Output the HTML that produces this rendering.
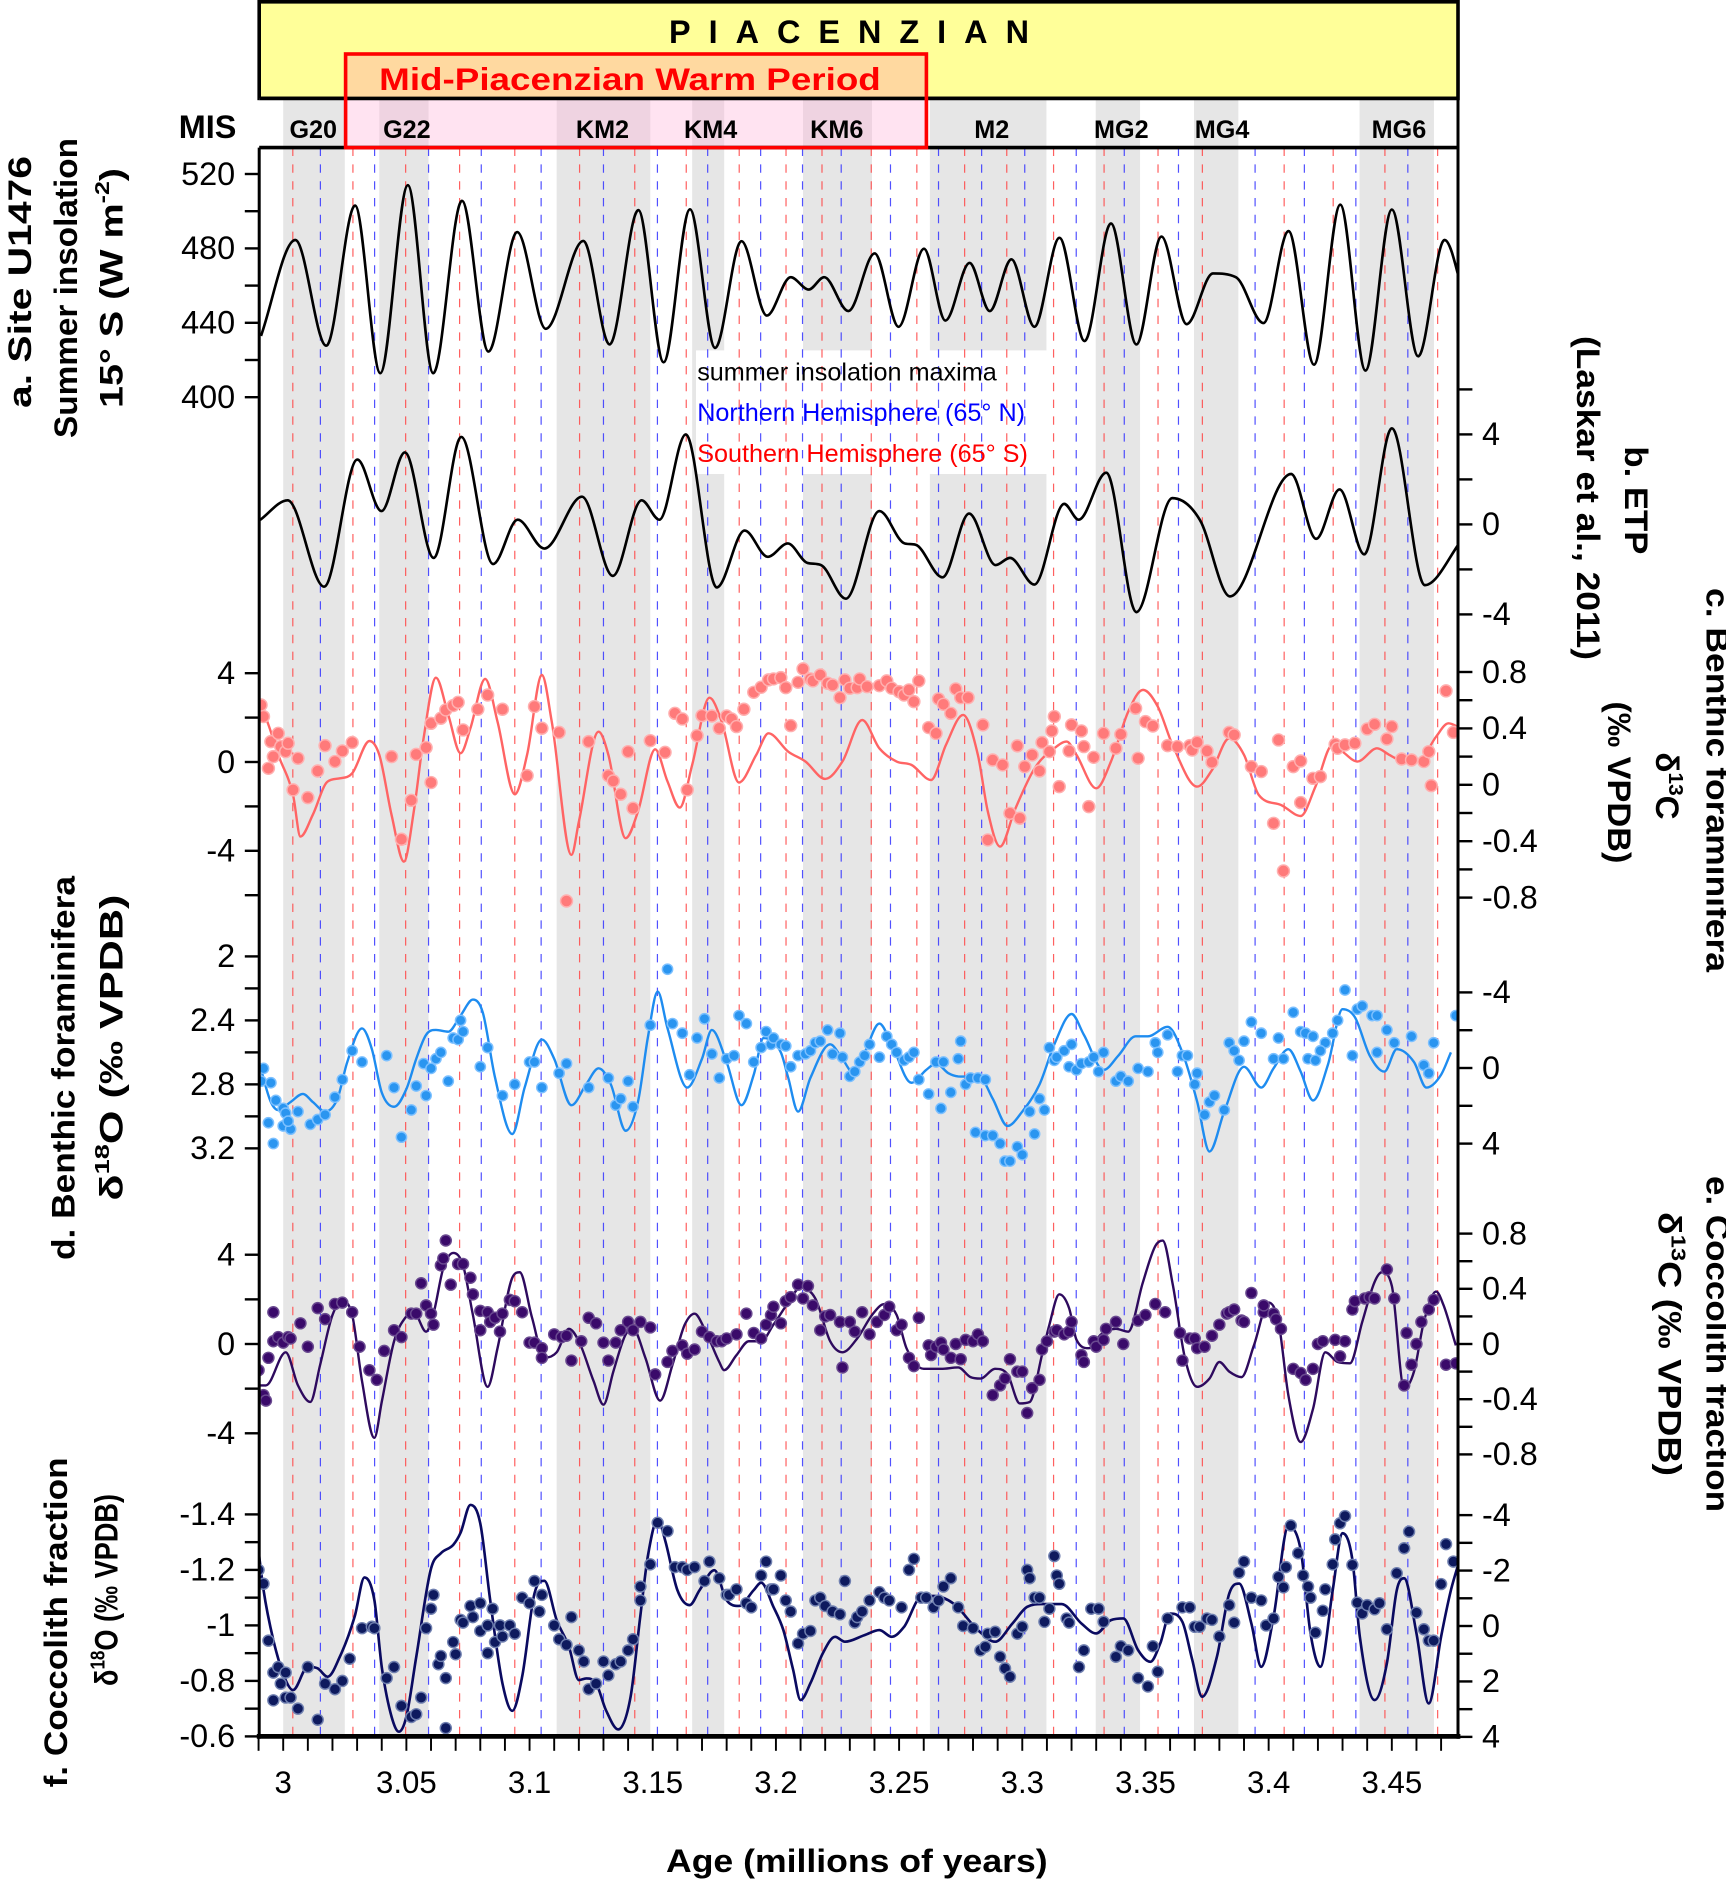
<!DOCTYPE html>
<html><head><meta charset="utf-8"><style>
html,body{margin:0;padding:0;background:#fff}
svg{display:block}
text{font-family:"Liberation Sans",sans-serif}
</style></head><body>
<svg id="chart" width="1726" height="1882" viewBox="0 0 1438.33 1568.33" xmlns="http://www.w3.org/2000/svg">
<defs><clipPath id="plotclip"><rect x="216" y="123" width="999" height="1324"/></clipPath></defs>
<g id="bg"></g>
<g id="marks" clip-path="url(#plotclip)"></g>
<g id="axes"></g>
</svg>
<script>
// ---------- data ----------
const bandStart=[3.0000,3.0390,3.1110,3.1660,3.2110,3.2625,3.3298,3.3697,3.4369];
const bandEnd  =[3.0250,3.0590,3.1490,3.1790,3.2390,3.3098,3.3478,3.3877,3.4671];
const misLabels=["G20","G22","KM2","KM4","KM6","M2","MG2","MG4","MG6"];
const misAges  =[3.0122,3.0502,3.1296,3.1735,3.2247,3.2876,3.3402,3.3811,3.4529];
const redLines =[3.0039,3.0283,3.0497,3.0716,3.0940,3.1203,3.1427,3.1636,3.1851,3.2041,3.2187,3.2387,3.2572,3.2766,3.2937,3.3127,3.3332,3.3551,3.3731,3.4063,3.4262,3.4472,3.4686];
const blueLines=[3.0151,3.0371,3.0590,3.0804,3.1047,3.1300,3.1519,3.1723,3.1938,3.2108,3.2265,3.2465,3.2660,3.2835,3.3010,3.3219,3.3414,3.3634,3.3945,3.4145,3.4354,3.4565];
const ageTicks=[3,3.05,3.1,3.15,3.2,3.25,3.3,3.35,3.4,3.45];
const ageTickLabels=["3","3.05","3.1","3.15","3.2","3.25","3.3","3.35","3.4","3.45"];

const insAge=[2.991,3.0049,3.0175,3.0292,3.0394,3.0506,3.0609,3.0726,3.0833,3.0950,3.1066,3.1218,3.1325,3.1442,3.1544,3.1651,3.1753,3.1860,3.1963,3.2060,3.2133,3.2196,3.2294,3.2401,3.2498,3.2601,3.2688,3.2786,3.2868,3.2956,3.3049,3.3151,3.3253,3.3360,3.3463,3.3565,3.3667,3.3774,3.3867,3.3979,3.4081,3.4184,3.4291,3.4393,3.4500,3.4607,3.4714,3.4802];
const insVal=[433,484.5,427.7,503,412.9,514,412.9,505.6,424.5,488.8,436.8,484,428.4,500.6,418.8,501,426.5,483.9,443.9,464.5,457.9,464.5,446.3,477.3,437.9,479.9,441.2,472.2,446.3,474.1,437.9,485.7,430.2,493.4,428.4,486.4,439.3,466.5,464.5,439.9,489.3,417.5,503.5,414.3,500.9,422,484.5,449.6];

const etpAge=[2.9906,3.0018,3.0166,3.0301,3.0399,3.0494,3.0611,3.0723,3.0852,3.0952,3.1060,3.1213,3.1338,3.1455,3.1527,3.1634,3.1760,3.1873,3.1967,3.2048,3.2128,3.2182,3.2284,3.2420,3.2523,3.2566,3.2676,3.2784,3.2892,3.2950,3.3049,3.3170,3.3229,3.3341,3.3463,3.3609,3.3721,3.3843,3.4091,3.4193,3.4288,3.4388,3.4500,3.4634,3.4787];
const etpVal=[0.2,1.07,-2.77,2.88,0.59,3.2,-1.49,3.89,-1.76,0.21,-1.07,1.23,-2.29,1.07,0.21,4.0,-2.8,-0.27,-1.44,-0.85,-1.71,-1.8,-3.3,0.59,-0.85,-0.9,-2.35,0.48,-1.81,-1.49,-2.67,0.91,0.21,2.3,-3.9,1.17,0.2,-3.2,2.24,-0.64,1.55,-1.33,4.27,-2.7,-0.64];

const bc13PtAge=[2.991,2.992,2.995,2.994,2.996,2.998,2.999,3.001,3.002,3.004,3.006,3.010,3.014,3.017,3.021,3.024,3.028,3.044,3.048,3.052,3.054,3.058,3.060,3.060,3.064,3.066,3.069,3.071,3.073,3.079,3.083,3.089,3.099,3.102,3.105,3.112,3.115,3.124,3.132,3.134,3.137,3.140,3.142,3.149,3.155,3.159,3.162,3.164,3.168,3.170,3.174,3.177,3.180,3.182,3.184,3.187,3.191,3.194,3.197,3.199,3.202,3.204,3.206,3.209,3.211,3.214,3.215,3.218,3.221,3.223,3.226,3.228,3.230,3.233,3.234,3.237,3.242,3.245,3.247,3.250,3.252,3.254,3.256,3.258,3.262,3.265,3.266,3.268,3.271,3.273,3.275,3.278,3.284,3.286,3.288,3.292,3.295,3.298,3.299,3.301,3.304,3.307,3.308,3.311,3.312,3.313,3.315,3.319,3.320,3.324,3.325,3.327,3.329,3.333,3.338,3.340,3.346,3.347,3.350,3.353,3.359,3.363,3.368,3.369,3.371,3.375,3.377,3.384,3.386,3.393,3.397,3.402,3.404,3.406,3.410,3.413,3.413,3.418,3.421,3.427,3.428,3.431,3.435,3.440,3.443,3.448,3.450,3.454,3.458,3.463,3.465,3.466,3.472,3.475];
const bc13PtVal=[0.566,0.484,0.306,0.117,0.20,0.365,0.271,0.235,0.295,-0.036,0.188,-0.091,0.098,0.278,0.165,0.24,0.30,0.20,-0.386,-0.11,0.216,0.264,0.016,0.436,0.472,0.531,0.562,0.585,0.389,0.536,0.637,0.536,0.065,0.555,0.401,0.372,-0.824,0.306,0.065,0.027,-0.067,0.235,-0.166,0.313,0.23,0.507,0.467,-0.036,0.349,0.491,0.488,0.401,0.488,0.467,0.413,0.536,0.656,0.692,0.744,0.751,0.76,0.689,0.42,0.727,0.822,0.751,0.737,0.779,0.72,0.708,0.618,0.744,0.685,0.689,0.751,0.696,0.703,0.737,0.685,0.661,0.637,0.673,0.59,0.737,0.406,0.365,0.609,0.571,0.507,0.68,0.618,0.618,0.425,-0.391,0.176,0.141,-0.202,0.276,-0.237,0.129,0.212,0.098,0.30,0.235,0.382,0.484,-0.013,0.24,0.425,0.382,0.271,-0.155,0.195,0.365,0.259,0.358,0.543,0.188,0.448,0.417,0.278,0.271,0.278,0.247,0.302,0.24,0.16,0.372,0.354,0.129,0.094,-0.273,0.318,-0.611,0.129,0.169,-0.126,0.046,0.058,0.287,0.259,0.283,0.295,0.396,0.429,0.325,0.413,0.183,0.176,0.165,0.235,-0.006,0.666,0.372];
const bc13LnAge=[2.989,2.993,2.998,3.004,3.007,3.012,3.018,3.023,3.028,3.035,3.039,3.044,3.049,3.053,3.057,3.062,3.067,3.072,3.076,3.082,3.087,3.094,3.099,3.105,3.109,3.117,3.120,3.128,3.132,3.139,3.144,3.151,3.156,3.161,3.166,3.173,3.178,3.185,3.192,3.197,3.205,3.212,3.220,3.227,3.235,3.242,3.249,3.255,3.263,3.269,3.276,3.282,3.286,3.291,3.297,3.305,3.313,3.318,3.322,3.330,3.336,3.343,3.349,3.355,3.361,3.371,3.377,3.384,3.390,3.396,3.405,3.413,3.419,3.426,3.430,3.436,3.444,3.449,3.455,3.462,3.468,3.473,3.478];
const bc13LnVal=[0.59,0.472,0.212,-0.072,-0.367,-0.214,0.023,0.046,0.082,0.311,0.212,-0.214,-0.545,-0.19,0.33,0.76,0.495,0.224,0.401,0.751,0.448,-0.067,0.212,0.779,0.448,-0.497,-0.261,0.377,0.212,-0.379,-0.19,0.252,0.023,-0.162,0.141,0.618,0.448,0.016,0.212,0.365,0.235,0.165,0.042,0.165,0.46,0.259,0.165,0.141,0.034,0.283,0.495,0.212,-0.19,-0.438,-0.178,0.117,0.259,0.306,0.212,-0.025,0.165,0.519,0.673,0.555,0.283,-0.013,0.105,0.33,0.212,-0.072,-0.143,-0.221,-0.013,0.283,0.235,0.165,0.259,0.212,0.165,0.188,0.342,0.436,0.40];

const bo18PtAge=[2.992,2.991,2.995,2.994,2.996,2.997,3.000,3.001,3.000,3.003,3.002,3.006,3.011,3.014,3.017,3.021,3.024,3.028,3.032,3.042,3.045,3.048,3.052,3.054,3.057,3.058,3.060,3.062,3.064,3.067,3.069,3.071,3.072,3.073,3.080,3.083,3.089,3.094,3.100,3.102,3.105,3.112,3.115,3.124,3.132,3.135,3.137,3.140,3.142,3.149,3.156,3.158,3.162,3.165,3.168,3.171,3.174,3.177,3.180,3.183,3.185,3.188,3.191,3.194,3.196,3.198,3.199,3.202,3.204,3.206,3.209,3.212,3.214,3.216,3.218,3.221,3.223,3.226,3.227,3.230,3.232,3.234,3.236,3.238,3.242,3.245,3.247,3.249,3.252,3.254,3.256,3.258,3.262,3.265,3.267,3.268,3.271,3.274,3.275,3.277,3.279,3.282,3.285,3.281,3.285,3.288,3.291,3.293,3.295,3.298,3.300,3.303,3.305,3.307,3.309,3.311,3.313,3.314,3.317,3.319,3.320,3.322,3.324,3.327,3.329,3.331,3.333,3.338,3.340,3.343,3.347,3.351,3.354,3.355,3.359,3.363,3.365,3.367,3.370,3.371,3.374,3.376,3.378,3.382,3.384,3.386,3.388,3.390,3.393,3.397,3.402,3.404,3.406,3.410,3.413,3.415,3.416,3.418,3.419,3.423,3.421,3.426,3.428,3.431,3.434,3.436,3.438,3.442,3.444,3.444,3.448,3.451,3.458,3.463,3.465,3.467,3.476];
const bo18PtVal=[2.70,2.78,2.79,3.04,3.17,2.90,2.95,2.98,3.06,3.08,3.03,2.97,3.05,3.02,2.99,2.88,2.77,2.59,2.66,2.62,2.82,3.13,2.96,2.81,2.67,2.87,2.70,2.64,2.60,2.78,2.51,2.52,2.40,2.47,2.69,2.57,2.87,2.80,2.66,2.66,2.82,2.73,2.67,2.82,2.76,2.93,2.89,2.78,2.94,2.43,2.08,2.42,2.48,2.74,2.51,2.39,2.61,2.76,2.64,2.62,2.37,2.42,2.66,2.57,2.47,2.55,2.51,2.55,2.56,2.69,2.62,2.61,2.59,2.54,2.53,2.46,2.61,2.48,2.63,2.75,2.72,2.66,2.62,2.55,2.63,2.50,2.55,2.60,2.65,2.63,2.60,2.77,2.86,2.66,2.95,2.66,2.85,2.64,2.53,2.80,2.76,2.76,2.77,3.10,3.12,3.12,3.17,3.28,3.28,3.19,3.24,2.97,3.11,2.89,2.96,2.57,2.65,2.63,2.59,2.69,2.55,2.71,2.67,2.66,2.63,2.72,2.60,2.78,2.75,2.78,2.70,2.72,2.54,2.60,2.49,2.72,2.62,2.62,2.80,2.73,2.99,2.91,2.87,2.96,2.54,2.59,2.65,2.53,2.41,2.48,2.64,2.51,2.64,2.35,2.47,2.48,2.64,2.50,2.65,2.54,2.59,2.48,2.40,2.21,2.62,2.33,2.31,2.37,2.37,2.60,2.46,2.54,2.50,2.68,2.73,2.54,2.37];
const bo18LnAge=[2.990,2.995,2.998,3.003,3.008,3.012,3.017,3.022,3.026,3.032,3.036,3.040,3.045,3.050,3.054,3.058,3.062,3.067,3.072,3.077,3.081,3.086,3.093,3.098,3.105,3.110,3.117,3.123,3.128,3.133,3.139,3.144,3.148,3.152,3.156,3.164,3.170,3.174,3.180,3.186,3.191,3.195,3.202,3.205,3.209,3.214,3.222,3.227,3.231,3.236,3.242,3.247,3.255,3.261,3.265,3.270,3.274,3.283,3.288,3.294,3.300,3.307,3.313,3.320,3.325,3.333,3.339,3.346,3.351,3.359,3.365,3.371,3.376,3.382,3.390,3.397,3.402,3.408,3.413,3.418,3.424,3.430,3.435,3.441,3.447,3.452,3.459,3.464,3.470,3.474];
const bo18LnVal=[2.65,2.91,2.96,2.91,2.86,2.91,2.97,2.89,2.66,2.45,2.58,2.85,2.94,2.83,2.64,2.49,2.46,2.47,2.37,2.27,2.35,2.76,3.11,2.82,2.52,2.64,2.93,2.80,2.70,2.80,3.09,2.91,2.51,2.22,2.45,2.82,2.64,2.46,2.66,2.93,2.74,2.51,2.60,2.76,2.97,2.76,2.55,2.64,2.72,2.60,2.42,2.55,2.79,2.71,2.67,2.73,2.75,2.76,2.89,3.06,2.97,2.80,2.55,2.36,2.49,2.71,2.62,2.50,2.50,2.44,2.60,2.91,3.22,2.97,2.69,2.82,2.70,2.58,2.72,2.90,2.68,2.33,2.38,2.62,2.72,2.58,2.66,2.82,2.74,2.60];

const cc13PtAge=[2.990,2.992,2.993,2.994,2.996,2.996,2.998,3.000,3.002,3.003,3.007,3.010,3.014,3.017,3.021,3.024,3.028,3.031,3.035,3.038,3.041,3.045,3.048,3.052,3.054,3.056,3.058,3.060,3.061,3.064,3.066,3.065,3.068,3.071,3.073,3.076,3.077,3.080,3.080,3.083,3.084,3.086,3.088,3.089,3.092,3.094,3.097,3.100,3.102,3.105,3.105,3.110,3.113,3.115,3.117,3.121,3.124,3.127,3.130,3.132,3.135,3.137,3.140,3.142,3.145,3.149,3.151,3.156,3.158,3.162,3.164,3.167,3.170,3.173,3.176,3.178,3.180,3.184,3.188,3.191,3.194,3.196,3.198,3.199,3.202,3.204,3.206,3.209,3.211,3.213,3.215,3.218,3.220,3.222,3.226,3.227,3.230,3.232,3.235,3.238,3.241,3.244,3.246,3.249,3.251,3.254,3.256,3.258,3.262,3.263,3.265,3.267,3.268,3.271,3.273,3.275,3.277,3.280,3.282,3.284,3.288,3.291,3.293,3.295,3.298,3.300,3.302,3.304,3.307,3.308,3.310,3.313,3.314,3.317,3.319,3.320,3.324,3.325,3.329,3.330,3.333,3.334,3.338,3.341,3.347,3.350,3.354,3.358,3.364,3.365,3.368,3.370,3.371,3.374,3.377,3.380,3.383,3.384,3.386,3.389,3.390,3.393,3.398,3.398,3.402,3.403,3.405,3.410,3.413,3.415,3.418,3.420,3.422,3.427,3.429,3.431,3.434,3.435,3.439,3.441,3.443,3.448,3.451,3.455,3.456,3.458,3.460,3.462,3.465,3.467,3.472,3.476];
const cc13PtVal=[-0.19,-0.37,-0.41,-0.10,0.02,0.23,0.05,0.01,0.05,0.04,0.15,-0.02,0.26,0.18,0.29,0.30,0.23,-0.02,-0.19,-0.26,-0.05,0.10,0.05,0.22,0.22,0.44,0.28,0.22,0.14,0.57,0.75,0.62,0.43,0.58,0.58,0.48,0.36,0.24,0.10,0.23,0.16,0.19,0.09,0.22,0.32,0.31,0.23,0.01,0.01,-0.03,-0.10,0.07,0.05,0.06,-0.12,0.02,0.19,0.15,0.01,-0.12,0.01,0.10,0.16,0.10,0.16,0.12,-0.22,-0.13,-0.05,-0.01,-0.07,-0.04,0.09,0.05,0.02,0.02,0.04,0.07,0.22,0.08,0.04,0.14,0.21,0.27,0.15,0.31,0.34,0.43,0.33,0.42,0.28,0.10,0.20,0.21,0.16,-0.17,0.16,0.09,0.23,0.07,0.16,0.21,0.27,0.10,0.14,-0.10,-0.16,0.19,-0.01,-0.08,-0.02,0.01,-0.04,-0.10,0.00,-0.11,0.03,0.02,0.07,0.02,-0.37,-0.30,-0.25,-0.11,-0.20,-0.20,-0.50,-0.32,-0.26,-0.04,0.02,0.09,0.10,0.07,0.09,0.16,-0.08,-0.13,0.02,-0.02,0.03,0.11,0.16,0.00,0.17,0.21,0.29,0.23,0.08,-0.12,0.04,0.04,-0.03,-0.02,0.06,0.14,0.22,0.23,0.25,0.17,0.16,0.37,0.23,0.28,0.22,0.18,0.11,-0.18,-0.21,-0.26,-0.18,0.00,0.02,0.03,-0.09,0.02,0.25,0.31,0.33,0.34,0.33,0.54,0.33,-0.30,0.08,-0.15,0.00,0.16,0.25,0.32,-0.15,-0.14];
const cc13LnAge=[2.989,2.993,3.001,3.006,3.011,3.015,3.020,3.024,3.028,3.032,3.037,3.040,3.045,3.050,3.053,3.058,3.061,3.065,3.069,3.073,3.077,3.083,3.087,3.093,3.096,3.101,3.106,3.111,3.116,3.120,3.126,3.130,3.134,3.139,3.142,3.147,3.153,3.158,3.163,3.167,3.171,3.177,3.179,3.184,3.189,3.194,3.199,3.205,3.210,3.216,3.222,3.227,3.233,3.239,3.244,3.249,3.253,3.260,3.267,3.274,3.279,3.283,3.289,3.294,3.299,3.303,3.308,3.311,3.315,3.319,3.322,3.327,3.332,3.338,3.343,3.349,3.354,3.357,3.361,3.366,3.371,3.376,3.380,3.384,3.389,3.394,3.400,3.404,3.408,3.413,3.418,3.423,3.428,3.433,3.438,3.443,3.446,3.450,3.455,3.459,3.463,3.468,3.471,3.476];
const cc13LnVal=[-0.30,-0.30,-0.06,-0.30,-0.42,-0.15,0.21,0.31,0.21,-0.27,-0.68,-0.42,0.02,0.20,0.23,0.09,0.22,0.55,0.66,0.57,0.21,-0.31,-0.03,0.48,0.52,0.19,-0.10,-0.06,0.11,0.02,-0.27,-0.44,-0.20,0.07,0.11,-0.10,-0.41,-0.15,0.14,0.22,0.11,-0.13,-0.19,-0.08,0.02,0.02,0.14,0.30,0.41,0.33,0.02,-0.06,0.04,0.21,0.29,0.21,-0.03,-0.18,-0.18,-0.17,-0.24,-0.25,-0.18,-0.22,-0.43,-0.42,-0.08,0.14,0.36,0.26,0.03,-0.03,0.07,0.11,0.09,0.45,0.71,0.75,0.44,-0.10,-0.31,-0.25,-0.13,-0.20,-0.24,-0.01,0.30,0.16,-0.37,-0.71,-0.47,-0.06,-0.13,-0.14,0.16,0.45,0.52,0.42,-0.32,-0.20,0.16,0.38,0.28,-0.01];

const co18PtAge=[2.990,2.992,2.994,2.996,2.996,2.998,2.999,3.001,3.001,3.003,3.006,3.010,3.014,3.017,3.021,3.024,3.027,3.032,3.036,3.037,3.042,3.045,3.048,3.052,3.054,3.056,3.058,3.060,3.061,3.063,3.064,3.066,3.066,3.069,3.070,3.072,3.073,3.076,3.077,3.080,3.080,3.083,3.083,3.085,3.086,3.088,3.089,3.092,3.094,3.097,3.100,3.102,3.104,3.105,3.110,3.112,3.115,3.117,3.120,3.122,3.124,3.127,3.130,3.132,3.135,3.137,3.140,3.142,3.145,3.145,3.149,3.152,3.156,3.159,3.162,3.164,3.167,3.171,3.173,3.177,3.180,3.181,3.184,3.188,3.190,3.194,3.196,3.198,3.199,3.202,3.204,3.206,3.209,3.211,3.214,3.216,3.218,3.220,3.223,3.226,3.228,3.232,3.233,3.235,3.238,3.242,3.244,3.246,3.251,3.254,3.256,3.259,3.261,3.264,3.266,3.268,3.271,3.274,3.276,3.280,3.283,3.285,3.286,3.289,3.291,3.293,3.295,3.298,3.300,3.302,3.303,3.305,3.307,3.309,3.311,3.313,3.314,3.315,3.318,3.319,3.323,3.325,3.328,3.331,3.333,3.338,3.340,3.343,3.347,3.351,3.353,3.355,3.359,3.365,3.368,3.370,3.372,3.375,3.377,3.380,3.384,3.386,3.388,3.390,3.393,3.397,3.399,3.402,3.404,3.406,3.407,3.409,3.412,3.414,3.416,3.417,3.419,3.422,3.423,3.426,3.427,3.429,3.431,3.434,3.436,3.438,3.440,3.443,3.445,3.448,3.452,3.455,3.457,3.460,3.463,3.465,3.467,3.470,3.472,3.475];
const co18PtVal=[-1.20,-1.15,-0.945,-0.83,-0.73,-0.85,-0.79,-0.74,-0.83,-0.74,-0.70,-0.85,-0.66,-0.79,-0.77,-0.80,-0.88,-0.99,-0.995,-0.99,-0.81,-0.85,-0.71,-0.67,-0.68,-0.74,-0.99,-1.06,-1.11,-0.86,-0.89,-0.63,-0.81,-0.94,-0.896,-1.02,-1.01,-1.07,-1.03,-1.08,-0.98,-1.00,-0.90,-1.06,-0.94,-1.00,-0.96,-1.00,-0.97,-1.10,-1.08,-1.16,-1.05,-1.11,-1.00,-0.95,-0.93,-1.03,-0.91,-0.87,-0.77,-0.79,-0.87,-0.82,-0.86,-0.87,-0.91,-0.95,-1.09,-1.14,-1.22,-1.37,-1.34,-1.21,-1.21,-1.20,-1.21,-1.16,-1.23,-1.17,-1.11,-1.11,-1.13,-1.08,-1.065,-1.18,-1.23,-1.13,-1.13,-1.18,-1.09,-1.05,-0.935,-0.97,-0.98,-1.09,-1.10,-1.07,-1.05,-1.04,-1.16,-1.01,-1.03,-1.05,-1.09,-1.12,-1.10,-1.09,-1.065,-1.20,-1.24,-1.10,-1.10,-1.065,-1.09,-1.14,-1.17,-1.065,-0.998,-0.99,-0.91,-0.923,-0.97,-0.977,-0.887,-0.845,-0.815,-0.97,-0.995,-1.20,-1.17,-1.10,-1.10,-1.013,-1.06,-1.25,-1.18,-1.15,-1.025,-1.01,-0.85,-0.91,-1.06,-1.06,-1.013,-0.887,-0.925,-0.91,-0.81,-0.78,-0.925,-0.833,-1.025,-1.065,-1.065,-0.995,-0.995,-1.025,-1.02,-0.96,-1.073,-1.01,-1.19,-1.23,-1.10,-1.09,-1.00,-1.025,-1.175,-1.137,-1.21,-1.36,-1.26,-1.18,-1.14,-1.10,-0.974,-1.053,-1.13,-1.22,-1.31,-1.368,-1.394,-1.218,-1.082,-1.043,-1.073,-1.058,-1.08,-0.986,-1.188,-1.278,-1.338,-1.046,-0.986,-0.945,-0.945,-1.149,-1.293,-1.23];
const co18LnAge=[2.989,2.992,2.996,3.001,3.004,3.010,3.014,3.018,3.023,3.029,3.033,3.037,3.040,3.044,3.047,3.050,3.054,3.060,3.064,3.069,3.072,3.076,3.080,3.084,3.089,3.093,3.097,3.102,3.106,3.111,3.116,3.120,3.123,3.127,3.131,3.136,3.141,3.145,3.148,3.152,3.155,3.160,3.165,3.169,3.175,3.180,3.185,3.191,3.194,3.199,3.203,3.207,3.210,3.214,3.219,3.224,3.228,3.236,3.242,3.247,3.252,3.259,3.264,3.272,3.282,3.289,3.296,3.302,3.308,3.316,3.324,3.330,3.336,3.341,3.347,3.352,3.356,3.360,3.365,3.369,3.373,3.379,3.384,3.388,3.393,3.397,3.402,3.408,3.413,3.417,3.421,3.426,3.430,3.434,3.437,3.443,3.448,3.452,3.455,3.460,3.465,3.470,3.474,3.478];
const co18LnVal=[-1.344,-1.128,-0.947,-0.803,-0.767,-0.851,-0.845,-0.815,-0.887,-1.031,-1.173,-1.091,-0.851,-0.671,-0.617,-0.671,-0.887,-1.205,-1.260,-1.290,-1.334,-1.434,-1.368,-1.091,-0.791,-0.692,-0.815,-1.115,-1.161,-1.019,-0.923,-0.803,-0.809,-0.791,-0.695,-0.625,-0.743,-1.037,-1.248,-1.382,-1.308,-1.127,-1.073,-1.127,-1.199,-1.091,-1.070,-1.127,-1.154,-1.067,-0.983,-0.839,-0.731,-0.791,-0.899,-0.959,-0.941,-0.965,-0.983,-0.959,-0.995,-1.103,-1.106,-1.079,-0.983,-0.941,-1.007,-1.067,-1.077,-1.077,-1.007,-0.971,-1.019,-1.025,-0.911,-0.869,-0.935,-1.043,-1.013,-0.875,-0.743,-0.887,-1.115,-1.151,-1.007,-0.851,-1.031,-1.356,-1.272,-0.971,-0.851,-1.127,-1.332,-1.236,-0.959,-0.731,-0.863,-1.127,-1.170,-0.971,-0.719,-0.959,-1.127,-1.25];

// ---------- scales ----------
const NS='http://www.w3.org/2000/svg';
const X=a=>236+(a-3)*2053;
const yA=v=>145+(520-v)*1.55;
const yB=v=>437-v*18.75;
const yC=v=>654-v*117.5;
const yD=v=>797+(v-2)*133.3;
const yE=v=>1120-v*115;
const yF=v=>1262+(v+1.4)*231.25;
const bg=document.getElementById('bg'),marks=document.getElementById('marks'),axes=document.getElementById('axes');
function el(tag,attrs,parent,txt){const e=document.createElementNS(NS,tag);for(const k in attrs)e.setAttribute(k,attrs[k]);if(txt!==undefined)e.textContent=txt;parent.appendChild(e);return e;}

function monoPath(xs,ys){
  const n=xs.length;const d=[],m=new Array(n);
  for(let i=0;i<n-1;i++)d.push((ys[i+1]-ys[i])/(xs[i+1]-xs[i]||1e-6));
  m[0]=d[0];m[n-1]=d[n-2];
  for(let i=1;i<n-1;i++){ if(d[i-1]*d[i]<=0)m[i]=0; else m[i]=(d[i-1]+d[i])/2; }
  for(let i=0;i<n-1;i++){ if(d[i]===0){m[i]=0;m[i+1]=0;continue;} const a=m[i]/d[i],b=m[i+1]/d[i],s=a*a+b*b; if(s>9){const t=3/Math.sqrt(s);m[i]=t*a*d[i];m[i+1]=t*b*d[i];} }
  let p='M'+xs[0].toFixed(1)+','+ys[0].toFixed(1);
  for(let i=0;i<n-1;i++){const h=(xs[i+1]-xs[i])/3;
    p+=' C'+(xs[i]+h).toFixed(1)+','+(ys[i]+m[i]*h).toFixed(1)+' '+(xs[i+1]-h).toFixed(1)+','+(ys[i+1]-m[i+1]*h).toFixed(1)+' '+xs[i+1].toFixed(1)+','+ys[i+1].toFixed(1);}
  return p;
}

// ---------- background ----------
let r;
r=el('rect',{x:216,y:1.5,width:999,height:80.5,fill:'#ffff99',stroke:'#000','stroke-width':3},bg);

r=el('rect',{x:216,y:82,width:999,height:41,fill:'#fff'},bg);

bandStart.forEach((s,i)=>{
  const b=el('rect',{x:X(s),y:82,width:X(bandEnd[i])-X(s),height:1365,fill:'#e6e6e6'},bg);
  
  
});
r=el('rect',{x:580,y:292,width:332,height:103,fill:'#fff'},bg);

r=el('rect',{x:288,y:45,width:484,height:37,fill:'#ffd9a0'},bg);

r=el('rect',{x:288,y:82,width:484,height:41,fill:'#ffb0d8','fill-opacity':0.35},bg);

redLines.forEach(a=>{const l=el('line',{x1:X(a),x2:X(a),y1:123,y2:1447,stroke:'#ff4444','stroke-width':1,'stroke-dasharray':'7,7','stroke-opacity':0.85},bg);
  });
blueLines.forEach(a=>{const l=el('line',{x1:X(a),x2:X(a),y1:123,y2:1447,stroke:'#3333ff','stroke-width':1,'stroke-dasharray':'7,7','stroke-opacity':0.85},bg);
  });
r=el('line',{x1:216,x2:1215,y1:82,y2:82,stroke:'#000','stroke-width':3},bg);

r=el('line',{x1:216,x2:1215,y1:123,y2:123,stroke:'#000','stroke-width':3},bg);

r=el('rect',{x:288,y:45,width:484,height:78,fill:'none',stroke:'#ff0000','stroke-width':3},bg);

r=el('text',{x:715,y:36,'text-anchor':'middle','font-size':27,'font-weight':'bold','letter-spacing':'15'},bg,'PIACENZIAN');

r=el('text',{x:525,y:75,'text-anchor':'middle','font-size':26,'font-weight':'bold',fill:'#ff0000',textLength:418,lengthAdjust:'spacingAndGlyphs'},bg,'Mid-Piacenzian Warm Period');

r=el('text',{x:173,y:115,'text-anchor':'middle','font-size':27,'font-weight':'bold'},bg,'MIS');

misLabels.forEach((t,i)=>{const e=el('text',{x:X(misAges[i]),y:115,'text-anchor':'middle','font-size':21,'font-weight':'bold'},bg,t);
  });

[['summer insolation maxima','#000',317],['Northern Hemisphere (65° N)','#0000ff',351],['Southern Hemisphere (65° S)','#ff0000',385]].forEach(l=>{
  const e=el('text',{x:581,y:l[2],'font-size':21,fill:l[1]},bg,l[0]);
  });

// ---------- series ----------
function line(ages,vals,yf,color,w,name){
  const p=el('path',{d:monoPath(ages.map(X),vals.map(yf)),fill:'none',stroke:color,'stroke-width':w,'stroke-linejoin':'round'},marks);
  
}
function pts(ages,vals,yf,fill,stroke,rad,name){
  ages.forEach((a,i)=>{const c=el('circle',{cx:X(a),cy:yf(vals[i]),r:rad,fill:fill,stroke:stroke,'stroke-width':1.2},marks);
    });
}
line(insAge,insVal,yA,'#000',2.2,'insolation-line');
line(etpAge,etpVal,yB,'#000',2.2,'etp-line');
line(bc13LnAge,bc13LnVal,yC,'#ff6464',2,'benthic-d13c-line');
pts(bc13PtAge,bc13PtVal,yC,'#ff7a7a','#ffb0b0',5,'benthic-d13c-point');
line(bo18LnAge,bo18LnVal,yD,'#1e8cf0',2,'benthic-d18o-line');
pts(bo18PtAge,bo18PtVal,yD,'#2a95f0','#7cc0ff',4.3,'benthic-d18o-point');
line(cc13LnAge,cc13LnVal,yE,'#2e0a5e',2,'coccolith-d13c-line');
pts(cc13PtAge,cc13PtVal,yE,'#3a0a6a','#6a4a90',4.6,'coccolith-d13c-point');
line(co18LnAge,co18LnVal,yF,'#0a0a60',2.2,'coccolith-d18o-line');
pts(co18PtAge,co18PtVal,yF,'#0e1a5e','#7080b0',4.6,'coccolith-d18o-point');

// ---------- axes ----------
r=el('line',{x1:216,x2:216,y1:123,y2:1449,stroke:'#000','stroke-width':2.5},axes);

r=el('line',{x1:1215,x2:1215,y1:0,y2:1449,stroke:'#000','stroke-width':2.5},axes);

r=el('line',{x1:214,x2:1217,y1:1447,y2:1447,stroke:'#000','stroke-width':4},axes);

for(let k=0;k<=48;k++){const a=2.99+k*0.01;const x=X(a);if(x<215||x>1216)continue;
  const t=el('line',{x1:x,x2:x,y1:1447,y2:1459,stroke:'#000','stroke-width':1.6},axes);
  }
ageTicks.forEach((a,i)=>{const t=el('text',{x:X(a),y:1494,'text-anchor':'middle','font-size':26},axes,ageTickLabels[i]);
  });
r=el('text',{x:714,y:1560,'text-anchor':'middle','font-size':27,'font-weight':'bold',textLength:318,lengthAdjust:'spacingAndGlyphs'},axes,'Age (millions of years)');


function yTicks(side,yf,major,labels,minor,fs){
  const x0=side==='l'?216:1215,dir=side==='l'?-1:1;
  major.forEach((v,i)=>{const y=yf(v);
    const t=el('line',{x1:x0,x2:x0+dir*12,y1:y,y2:y,stroke:'#000','stroke-width':2},axes);
    
    const l=el('text',{x:side==='l'?x0-20:x0+20,y:y+9,'text-anchor':side==='l'?'end':'start','font-size':fs},axes,labels[i]);
    });
  minor.forEach(v=>{const y=yf(v);
    const t=el('line',{x1:x0,x2:x0+dir*12,y1:y,y2:y,stroke:'#000','stroke-width':2},axes);
    });
}
yTicks('l',yA,[520,480,440,400],['520','480','440','400'],[500,460,420],27);
yTicks('r',yB,[4,0,-4],['4','0','-4'],[6,2,-2],27);
yTicks('l',v=>635-v*18.5,[4,0,-4],['4','0','-4'],[2,-2,-6],27);
yTicks('r',yC,[0.8,0.4,0,-0.4,-0.8],['0.8','0.4','0','-0.4','-0.8'],[0.6,0.2,-0.2,-0.6],27);
yTicks('l',yD,[2,2.4,2.8,3.2],['2','2.4','2.8','3.2'],[2.2,2.6,3.0],27);
yTicks('r',v=>890+v*15.75,[-4,0,4],['-4','0','4'],[-2,2],27);
yTicks('l',v=>1120-v*18.6,[4,0,-4],['4','0','-4'],[2,-2],27);
yTicks('r',yE,[0.8,0.4,0,-0.4,-0.8],['0.8','0.4','0','-0.4','-0.8'],[0.6,0.2,-0.2,-0.6],27);
yTicks('l',yF,[-1.4,-1.2,-1,-0.8,-0.6],['-1.4','-1.2','-1','-0.8','-0.6'],[-1.3,-1.1,-0.9,-0.7],27);
yTicks('r',v=>1355+v*23.1,[-4,-2,0,2,4],['-4','-2','0','2','4'],[-3,-1,1,3],27);

// segments: [text, 'sup'] for superscript; following plain segment restores baseline
function vtitle(x,y,rot,segs,len,name){
  const t=el('text',{x:0,y:0,'text-anchor':'middle','font-size':27,'font-weight':'bold',transform:'translate('+x+','+y+') rotate('+rot+')',textLength:len,lengthAdjust:'spacingAndGlyphs'},axes);
  
  let prevSup=false;
  segs.forEach(s=>{
    if(s[1]==='sup'){el('tspan',{'font-size':17,dy:-11},t,s[0]);prevSup=true;}
    else{el('tspan',prevSup?{'font-size':27,dy:11}:{'font-size':27},t,s[0]);prevSup=false;}
  });
  return t;
}
vtitle(26,235,-90,[['a. Site U1476']],210,'y-title-a1');
vtitle(64,240,-90,[['Summer insolation']],250,'y-title-a2');
vtitle(102,240,-90,[['15° S (W m'],['-2','sup'],[')']],200,'y-title-a3');
vtitle(1354,417,90,[['b. ETP']],90,'y-title-b1');
vtitle(1314,415,90,[['(Laskar et al., 2011)']],270,'y-title-b2');
vtitle(1422,650,90,[['c. Benthic foraminifera']],320,'y-title-c1');
vtitle(1380,655,90,[['δ'],['13','sup'],['C']],56,'y-title-c2');
vtitle(1340,652,90,[['(‰ VPDB)']],135,'y-title-c3');
vtitle(62,890,-90,[['d. Benthic foraminifera']],320,'y-title-d1');
vtitle(102,873,-90,[['δ'],['18','sup'],['O (‰ VPDB)']],255,'y-title-d2');
vtitle(1422,1120,90,[['e. Coccolith fraction']],280,'y-title-e1');
vtitle(1382,1120,90,[['δ'],['13','sup'],['C (‰ VPDB)']],220,'y-title-e2');
vtitle(56,1352,-90,[['f. Coccolith fraction']],275,'y-title-f1');
vtitle(98,1325,-90,[['δ'],['18','sup'],['O (‰ VPDB)']],160,'y-title-f2');
</script>
</body></html>
